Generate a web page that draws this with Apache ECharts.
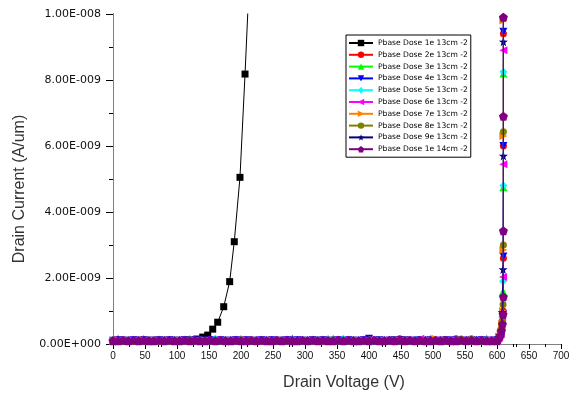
<!DOCTYPE html>
<html>
<head>
<meta charset="utf-8">
<script src="https://cdn.jsdelivr.net/npm/echarts@6/dist/echarts.min.js"></script>
<style>
  html, body { margin: 0; padding: 0; background: #fff; }
  #chart { width: 579px; height: 398px; }
</style>
</head>
<body>
<div id="chart"></div>
<script>
// Drain current vs drain voltage for ten p-base doses.
// Currents are in units of 1e-9 A/um; labels show them in A/um.

const seriesNames = [
  'Pbase Dose 1e 13cm -2', 'Pbase Dose 2e 13cm -2', 'Pbase Dose 3e 13cm -2',
  'Pbase Dose 4e 13cm -2', 'Pbase Dose 5e 13cm -2', 'Pbase Dose 6e 13cm -2',
  'Pbase Dose 7e 13cm -2', 'Pbase Dose 8e 13cm -2', 'Pbase Dose 9e 13cm -2',
  'Pbase Dose 1e 14cm -2'
];

const xTicks = [0, 700, 50];          // min, max, step of the voltage axis
const yTicks = [0, 10, 2];            // min, max, step of the current axis (1e-9 A/um)

// 1e13 cm-2: early turn-on
const dose1V = [0, 8, 16, 24, 32, 40, 48, 56, 64, 72, 80, 88, 96, 104, 112, 120,
  131, 140.2, 148, 155.8, 163.6, 173, 182.3, 189.5, 198.4, 206.3, 214];
const dose1I = [0.10, 0.10, 0.11, 0.10, 0.10, 0.11, 0.10, 0.10, 0.11, 0.10, 0.10, 0.11, 0.10, 0.11, 0.11, 0.12,
  0.15, 0.21, 0.27, 0.45, 0.66, 1.13, 1.89, 3.10, 5.05, 8.18, 11.5];

// Off-state sweep voltages shared by the higher-dose curves
const offV = [
  0, 8, 16, 24, 32, 40, 48, 56, 64, 72, 80, 88, 96, 104, 112, 120, 128, 136, 144,
  152, 160, 168, 176, 184, 192, 200, 208, 216, 224, 232, 240, 248, 256, 264, 272, 280, 288, 296,
  304, 312, 320, 328, 336, 344, 352, 360, 368, 376, 384, 392, 400, 408, 416, 424, 432, 440, 448,
  456, 464, 472, 480, 488, 496, 504, 512, 520, 528, 536, 544, 552, 560, 568, 576, 584, 592, 600
];

const offI2 = [
  0.11, 0.10, 0.11, 0.10, 0.10, 0.11, 0.10, 0.11, 0.10, 0.10, 0.11, 0.10, 0.11, 0.10, 0.10, 0.11, 0.10, 0.10, 0.11,
  0.10, 0.11, 0.10, 0.10, 0.11, 0.10, 0.11, 0.10, 0.10, 0.11, 0.10, 0.10, 0.11, 0.10, 0.11, 0.10, 0.10, 0.11, 0.10,
  0.10, 0.11, 0.10, 0.10, 0.11, 0.10, 0.11, 0.10, 0.10, 0.11, 0.10, 0.10, 0.11, 0.10, 0.11, 0.10, 0.10, 0.11, 0.16,
  0.10, 0.11, 0.10, 0.10, 0.11, 0.10, 0.11, 0.10, 0.10, 0.11, 0.16, 0.10, 0.11, 0.10, 0.11, 0.10, 0.10, 0.11, 0.10
];
const offI3 = [
  0.11, 0.17, 0.10, 0.11, 0.10, 0.11, 0.16, 0.10, 0.11, 0.10, 0.11, 0.10, 0.10, 0.11, 0.10, 0.16, 0.11, 0.10, 0.11,
  0.10, 0.11, 0.10, 0.11, 0.10, 0.11, 0.16, 0.10, 0.11, 0.10, 0.11, 0.10, 0.10, 0.11, 0.10, 0.11, 0.10, 0.11, 0.10,
  0.11, 0.10, 0.11, 0.10, 0.16, 0.17, 0.10, 0.11, 0.10, 0.11, 0.10, 0.11, 0.10, 0.10, 0.11, 0.10, 0.11, 0.10, 0.11,
  0.10, 0.11, 0.10, 0.11, 0.10, 0.17, 0.11, 0.10, 0.11, 0.10, 0.11, 0.10, 0.11, 0.10, 0.11, 0.10, 0.17, 0.11, 0.10
];
const offI4 = [
  0.10, 0.11, 0.10, 0.10, 0.11, 0.10, 0.11, 0.10, 0.10, 0.11, 0.10, 0.11, 0.10, 0.10, 0.11, 0.10, 0.11, 0.10, 0.10,
  0.11, 0.10, 0.11, 0.10, 0.10, 0.11, 0.10, 0.11, 0.10, 0.10, 0.11, 0.10, 0.11, 0.10, 0.10, 0.11, 0.10, 0.11, 0.10,
  0.10, 0.11, 0.10, 0.11, 0.10, 0.10, 0.11, 0.10, 0.11, 0.10, 0.10, 0.11, 0.16, 0.10, 0.11, 0.10, 0.10, 0.11, 0.10,
  0.11, 0.10, 0.10, 0.11, 0.10, 0.11, 0.10, 0.10, 0.11, 0.10, 0.11, 0.10, 0.10, 0.11, 0.10, 0.11, 0.10, 0.10, 0.11
];
const offI5 = [
  0.10, 0.10, 0.11, 0.10, 0.11, 0.10, 0.10, 0.11, 0.10, 0.11, 0.10, 0.10, 0.11, 0.10, 0.11, 0.10, 0.10, 0.11, 0.10,
  0.11, 0.16, 0.10, 0.11, 0.10, 0.10, 0.11, 0.10, 0.11, 0.10, 0.10, 0.11, 0.10, 0.11, 0.10, 0.10, 0.11, 0.10, 0.11,
  0.10, 0.10, 0.11, 0.10, 0.11, 0.10, 0.10, 0.16, 0.10, 0.11, 0.10, 0.10, 0.11, 0.10, 0.11, 0.10, 0.10, 0.11, 0.10,
  0.11, 0.10, 0.10, 0.11, 0.10, 0.11, 0.10, 0.10, 0.11, 0.10, 0.11, 0.10, 0.10, 0.11, 0.10, 0.11, 0.10, 0.10, 0.11
];
const offI6 = [
  0.11, 0.10, 0.10, 0.11, 0.10, 0.11, 0.10, 0.10, 0.11, 0.10, 0.11, 0.10, 0.10, 0.11, 0.10, 0.11, 0.10, 0.10, 0.11,
  0.10, 0.11, 0.10, 0.10, 0.11, 0.10, 0.11, 0.10, 0.10, 0.11, 0.10, 0.11, 0.10, 0.10, 0.11, 0.10, 0.11, 0.10, 0.10,
  0.11, 0.10, 0.11, 0.10, 0.10, 0.11, 0.10, 0.11, 0.10, 0.10, 0.11, 0.10, 0.11, 0.10, 0.10, 0.11, 0.10, 0.11, 0.10,
  0.10, 0.11, 0.10, 0.16, 0.11, 0.10, 0.11, 0.10, 0.10, 0.11, 0.10, 0.11, 0.10, 0.10, 0.11, 0.10, 0.11, 0.10, 0.10
];
const offI7 = [
  0.10, 0.11, 0.10, 0.11, 0.10, 0.10, 0.11, 0.10, 0.11, 0.10, 0.10, 0.11, 0.10, 0.11, 0.10, 0.10, 0.11, 0.10, 0.11,
  0.10, 0.10, 0.11, 0.10, 0.11, 0.10, 0.10, 0.11, 0.10, 0.11, 0.10, 0.10, 0.11, 0.10, 0.11, 0.10, 0.10, 0.11, 0.10,
  0.11, 0.10, 0.10, 0.11, 0.10, 0.11, 0.10, 0.10, 0.11, 0.10, 0.11, 0.10, 0.10, 0.11, 0.10, 0.11, 0.10, 0.10, 0.11,
  0.10, 0.11, 0.10, 0.10, 0.11, 0.10, 0.16, 0.10, 0.11, 0.10, 0.10, 0.11, 0.10, 0.11, 0.10, 0.10, 0.11, 0.10, 0.11
];
const offI8 = [
  0.11, 0.10, 0.11, 0.10, 0.10, 0.11, 0.10, 0.11, 0.10, 0.10, 0.11, 0.10, 0.11, 0.10, 0.10, 0.11, 0.10, 0.11, 0.10,
  0.10, 0.11, 0.10, 0.11, 0.10, 0.10, 0.11, 0.10, 0.11, 0.10, 0.10, 0.11, 0.10, 0.11, 0.10, 0.10, 0.11, 0.10, 0.11,
  0.10, 0.10, 0.11, 0.10, 0.11, 0.10, 0.10, 0.11, 0.10, 0.11, 0.10, 0.10, 0.11, 0.10, 0.11, 0.10, 0.10, 0.11, 0.10,
  0.11, 0.10, 0.10, 0.11, 0.10, 0.11, 0.10, 0.10, 0.11, 0.10, 0.11, 0.15, 0.10, 0.16, 0.10, 0.11, 0.10, 0.10, 0.11
];
const offI9 = [
  0.10, 0.11, 0.10, 0.10, 0.11, 0.10, 0.11, 0.10, 0.10, 0.11, 0.10, 0.11, 0.10, 0.10, 0.11, 0.10, 0.11, 0.10, 0.10,
  0.11, 0.10, 0.11, 0.10, 0.10, 0.11, 0.10, 0.11, 0.10, 0.10, 0.11, 0.10, 0.11, 0.10, 0.10, 0.11, 0.15, 0.11, 0.10,
  0.10, 0.11, 0.10, 0.11, 0.10, 0.10, 0.11, 0.10, 0.11, 0.10, 0.10, 0.11, 0.10, 0.11, 0.10, 0.10, 0.11, 0.10, 0.11,
  0.10, 0.10, 0.11, 0.10, 0.11, 0.10, 0.10, 0.11, 0.10, 0.11, 0.10, 0.10, 0.11, 0.10, 0.11, 0.10, 0.10, 0.11, 0.10
];
const offI10 = [
  0.10, 0.10, 0.11, 0.10, 0.11, 0.10, 0.11, 0.10, 0.10, 0.11, 0.10, 0.11, 0.10, 0.10, 0.11, 0.10, 0.11, 0.10, 0.10,
  0.11, 0.10, 0.11, 0.10, 0.10, 0.11, 0.10, 0.10, 0.11, 0.10, 0.11, 0.10, 0.10, 0.11, 0.10, 0.11, 0.10, 0.10, 0.11,
  0.10, 0.11, 0.10, 0.11, 0.10, 0.10, 0.11, 0.10, 0.11, 0.10, 0.10, 0.11, 0.10, 0.11, 0.10, 0.10, 0.11, 0.10, 0.11,
  0.10, 0.11, 0.10, 0.11, 0.10, 0.10, 0.11, 0.10, 0.11, 0.10, 0.10, 0.11, 0.10, 0.11, 0.10, 0.11, 0.10, 0.10, 0.10
];

// Breakdown near 610 V
const bdV2 = [603, 606, 608, 609.5, 610, 610, 610, 610.2];
const bdI2 = [0.2, 0.3, 0.6, 1.0, 2.6, 6.0, 9.4, 12.8];
const bdV3 = [603, 606, 608, 609.5, 610, 610, 610];
const bdI3 = [0.2, 0.3, 0.55, 1.6, 4.75, 8.2, 11.6];
const bdV4 = [603, 606, 608, 609.5, 610, 610, 610, 610.2];
const bdI4 = [0.2, 0.3, 0.5, 0.9, 2.65, 6.0, 9.46, 12.9];
const bdV5 = [603, 606, 608, 609.5, 610, 610, 610];
const bdI5 = [0.2, 0.3, 0.8, 1.9, 4.8, 8.25, 11.7];
const bdV6 = [603, 606, 608, 609.5, 610, 610, 610];
const bdI6 = [0.2, 0.3, 0.7, 2.03, 5.45, 8.9, 12.3];
const bdV7 = [603, 606, 608, 609.5, 610, 610, 610, 610.2];
const bdI7 = [0.2, 0.35, 0.6, 1.0, 2.85, 6.3, 9.8, 13.2];
const bdV8 = [603, 606, 608, 609.5, 610, 610, 610, 610.2];
const bdI8 = [0.2, 0.45, 0.7, 1.2, 3.0, 6.43, 9.9, 13.4];
const bdV9 = [603, 606, 608, 609.5, 610, 610, 610];
const bdI9 = [0.2, 0.35, 0.96, 2.26, 5.7, 9.16, 12.6];
const bdV10 = [602, 605, 607, 608.5, 609.5, 610, 610, 610, 610, 610.2];
const bdI10 = [0.15, 0.25, 0.4, 0.6, 0.9, 1.43, 3.43, 6.9, 9.9, 13.3];

const colors = ['#000000', '#ff0000', '#00ff00', '#0000ff', '#00ffff',
  '#ff00ff', '#ff8000', '#808000', '#000080', '#800080'];

const P_DOWN = 'path://M-10,-8 L10,-8 L0,9 Z';
const P_LEFT = 'path://M8,-10 L8,10 L-9,0 Z';
const P_RIGHT = 'path://M-8,-10 L-8,10 L9,0 Z';
const P_STAR = 'path://M0,-10 L2.35,-3.24 L9.51,-3.09 L3.8,1.24 L5.88,8.09 L0,4 L-5.88,8.09 L-3.8,1.24 L-9.51,-3.09 L-2.35,-3.24 Z';
const P_PENT = 'path://M0,-10 L9.51,-3.09 L5.88,8.09 L-5.88,8.09 L-9.51,-3.09 Z';
const symbols = ['rect', 'circle', 'triangle', P_DOWN, 'diamond', P_LEFT, P_RIGHT, 'circle', P_STAR, P_PENT];
const symbolSizes = [7, 7, 8, 8, 8, 8, 8, 7, 9, 9];

function zip(xs, ys) {
  const n = Math.min(xs.length, ys.length);
  const out = [];
  for (let i = 0; i < n; i++) out.push([xs[i], ys[i]]);
  return out;
}

const curves = [
  zip(dose1V, dose1I),
  zip(offV, offI2).concat(zip(bdV2, bdI2)),
  zip(offV, offI3).concat(zip(bdV3, bdI3)),
  zip(offV, offI4).concat(zip(bdV4, bdI4)),
  zip(offV, offI5).concat(zip(bdV5, bdI5)),
  zip(offV, offI6).concat(zip(bdV6, bdI6)),
  zip(offV, offI7).concat(zip(bdV7, bdI7)),
  zip(offV, offI8).concat(zip(bdV8, bdI8)),
  zip(offV, offI9).concat(zip(bdV9, bdI9)),
  zip(offV, offI10).concat(zip(bdV10, bdI10))
];

function sciLabel(v) {
  if (Math.abs(v) < 1e-9) return '0.00E+000';
  let e = Math.floor(Math.log10(v) + 1e-9);
  const m = v / Math.pow(10, e);
  e -= 9;
  const sign = e < 0 ? '-' : '+';
  return m.toFixed(2) + 'E' + sign + String(Math.abs(e)).padStart(3, '0');
}

const series = curves.map((data, i) => ({
  name: seriesNames[i],
  type: 'line',
  data: data,
  symbol: symbols[i],
  symbolSize: symbolSizes[i],
  showAllSymbol: true,
  clip: true,
  animation: false,
  lineStyle: { color: colors[i], width: 1 },
  itemStyle: { color: colors[i] },
  z: 2 + i
}));

const chart = echarts.init(document.getElementById('chart'), null, { renderer: 'canvas' });
chart.setOption({
  backgroundColor: '#ffffff',
  animation: false,
  grid: { left: 113, right: 18, top: 14, bottom: 54, containLabel: false },
  legend: {
    orient: 'vertical',
    left: 346,
    top: 35,
    padding: [4, 3, 4, 2],
    itemWidth: 24,
    itemHeight: 8,
    itemGap: 3.8,
    borderColor: '#000',
    borderWidth: 1,
    backgroundColor: '#fff',
    textStyle: { fontFamily: 'DejaVu Sans', fontSize: 7.6, color: '#000', lineHeight: 8 },
    data: seriesNames
  },
  xAxis: [
    {
      type: 'value', position: 'bottom',
      min: xTicks[0], max: xTicks[1], interval: xTicks[2],
      axisLine: { show: true, lineStyle: { color: '#000', width: 1 } },
      axisTick: { show: true, inside: false, length: 5, lineStyle: { color: '#000' } },
      minorTick: { show: true, splitNumber: 2, length: 3, lineStyle: { color: '#000' } },
      axisLabel: { color: '#111', fontFamily: 'Liberation Sans', fontSize: 10, margin: 7 },
      splitLine: { show: false }
    },
    {
      type: 'value', position: 'top',
      min: 0, max: 700, interval: 70,
      axisLine: { show: true, lineStyle: { color: '#808080', width: 1 } },
      axisTick: { show: true, inside: true, length: 3, lineStyle: { color: '#000' } },
      axisLabel: { show: false },
      splitLine: { show: false }
    }
  ],
  yAxis: [
    {
      type: 'value', position: 'left',
      min: yTicks[0], max: yTicks[1], interval: yTicks[2],
      axisLine: { show: true, lineStyle: { color: '#000', width: 1 } },
      axisTick: { show: true, inside: false, length: 7, lineStyle: { color: '#000' } },
      minorTick: { show: true, splitNumber: 2, length: 4, lineStyle: { color: '#000' } },
      axisLabel: { color: '#111', fontFamily: 'DejaVu Sans', fontSize: 11, margin: 12, formatter: sciLabel },
      splitLine: { show: false }
    },
    {
      type: 'value', position: 'right',
      min: 0, max: 10, interval: 1,
      axisLine: { show: true, lineStyle: { color: '#808080', width: 1 } },
      axisTick: { show: true, inside: true, length: 4, lineStyle: { color: '#000' } },
      axisLabel: { show: false },
      splitLine: { show: false }
    }
  ],
  graphic: [
    {
      type: 'text', x: 344, y: 383,
      style: { text: 'Drain Voltage (V)', fill: '#333', font: '16px "Liberation Sans"', align: 'center', verticalAlign: 'middle' }
    },
    {
      type: 'text', x: 20, y: 189, rotation: Math.PI / 2,
      style: { text: 'Drain Current (A/um)', fill: '#333', font: '16px "Liberation Sans"', align: 'center', verticalAlign: 'middle' }
    }
  ],
  series: series
});
</script>
</body>
</html>
